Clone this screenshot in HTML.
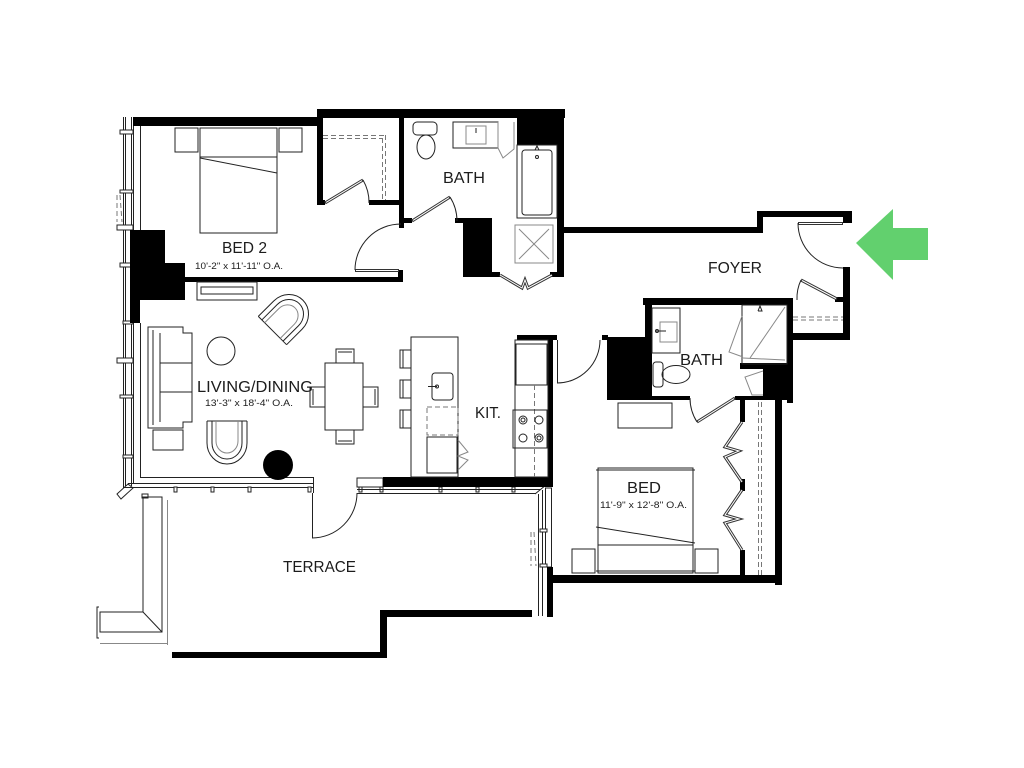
<!DOCTYPE html>
<html><head><meta charset="utf-8">
<style>
html,body{margin:0;padding:0;background:#fff;}
svg{display:block;}
text{font-family:"Liberation Sans",sans-serif;fill:#1c1c1c;}
.t{fill:none;stroke:#222;stroke-width:1;}
.g{fill:none;stroke:#888;stroke-width:1;}
.d{fill:none;stroke:#777;stroke-width:1;stroke-dasharray:5 3;}
.s{fill:none;stroke:#333;stroke-width:3;}
.si{fill:none;stroke:#fff;stroke-width:1;}
.w{fill:#fff;stroke:#222;stroke-width:1;}
</style></head><body>
<svg width="1024" height="768" viewBox="0 0 1024 768" xmlns="http://www.w3.org/2000/svg">
<rect width="1024" height="768" fill="#fff"/>

<!-- LEFT EXTERIOR WINDOW WALL -->
<g class="t">
 <line x1="123.5" y1="117" x2="123.5" y2="492"/>
 <line x1="125.5" y1="117" x2="125.5" y2="490"/>
 <line x1="131.5" y1="117" x2="131.5" y2="486"/>
 <line x1="133.5" y1="126" x2="133.5" y2="484"/>
 <line x1="140.5" y1="126" x2="140.5" y2="230"/>
 <line x1="140.5" y1="323" x2="140.5" y2="477"/>
</g>
<g class="w">
 <rect x="120" y="130" width="13" height="4"/>
 <rect x="120" y="190" width="13" height="3"/>
 <rect x="117" y="225" width="16" height="5"/>
 <rect x="120" y="263" width="13" height="4"/>
 <rect x="123" y="321" width="10" height="3"/>
 <rect x="117" y="358" width="16" height="5"/>
 <rect x="120" y="395" width="13" height="3"/>
 <rect x="123" y="455" width="10" height="3"/>
</g>
<g class="d" stroke-dasharray="2 2"><line x1="117" y1="195" x2="117" y2="222"/><line x1="120" y1="195" x2="122" y2="222"/></g>
<polygon points="117,494 128,484 133,488 121,499" class="w"/>

<!-- LIVING BOTTOM EDGE -->
<g class="t">
 <line x1="140" y1="477.5" x2="313" y2="477.5"/>
 <line x1="128" y1="483.5" x2="313" y2="483.5"/>
 <line x1="124" y1="487.5" x2="313" y2="487.5"/>
 <line x1="313.5" y1="477" x2="313.5" y2="493"/>
</g>
<g class="w">
 <rect x="174" y="487" width="3" height="5"/><rect x="211" y="487" width="3" height="5"/>
 <rect x="248" y="487" width="3" height="5"/><rect x="308" y="487" width="3" height="5"/>
 <rect x="357" y="478" width="26" height="9"/>
 <rect x="359" y="487" width="3" height="5"/><rect x="380" y="487" width="3" height="5"/>
 <rect x="439" y="487" width="3" height="5"/><rect x="476" y="487" width="3" height="5"/>
 <rect x="512" y="487" width="3" height="5"/>
</g>
<g class="t">
 <line x1="357" y1="489.5" x2="540" y2="489.5"/>
 <line x1="357" y1="493.5" x2="536" y2="493.5"/>
 <line x1="535" y1="494" x2="546" y2="485"/>
 <line x1="538.5" y1="494" x2="538.5" y2="616"/>
 <line x1="542.5" y1="490" x2="542.5" y2="616"/>
 <rect x="545.5" y="488" width="6" height="79" fill="#fff"/>
</g>
<g class="w"><rect x="540" y="529" width="7" height="3"/><rect x="540" y="564" width="7" height="3"/></g>
<g class="d" stroke-dasharray="2 2"><line x1="531" y1="532" x2="531" y2="566"/><line x1="534" y1="532" x2="536" y2="566"/></g>

<!-- WALLS -->
<g fill="#000">
 <rect x="133" y="117" width="188" height="9"/>
 <rect x="317" y="109" width="248" height="9"/>
 <rect x="317" y="109" width="6" height="96"/>
 <rect x="317" y="200" width="8" height="5"/>
 <rect x="369" y="200" width="35" height="5"/>
 <rect x="399" y="118" width="5" height="110"/>
 <rect x="399" y="218" width="13" height="5"/>
 <rect x="455" y="218" width="37" height="5"/>
 <rect x="463" y="220" width="29" height="57"/>
 <rect x="517" y="109" width="46" height="36"/>
 <rect x="557" y="109" width="7" height="168"/>
 <rect x="492" y="272" width="8" height="5"/>
 <rect x="550" y="272" width="13" height="5"/>
 <rect x="183" y="277" width="220" height="5"/>
 <rect x="398" y="270" width="5" height="12"/>
 <path d="M130 230H165V263H185V300H140V323H130Z"/>
 <rect x="563" y="227" width="200" height="6"/>
 <rect x="757" y="211" width="6" height="22"/>
 <rect x="757" y="211" width="95" height="6"/>
 <rect x="843" y="211" width="9" height="12"/>
 <rect x="843" y="267" width="7" height="73"/>
 <rect x="787" y="333" width="63" height="7"/>
 <rect x="787" y="298" width="6" height="105"/>
 <rect x="643" y="298" width="150" height="7"/>
 <rect x="835" y="297" width="10" height="5"/>
 <rect x="645" y="298" width="7" height="102"/>
 <rect x="607" y="337" width="43" height="63"/>
 <rect x="602" y="335" width="6" height="5"/>
 <rect x="740" y="363" width="50" height="6"/>
 <rect x="763" y="368" width="27" height="32"/>
 <rect x="650" y="396" width="40" height="4"/>
 <rect x="735" y="396" width="30" height="4"/>
 <rect x="740" y="400" width="5" height="22"/>
 <rect x="740" y="479" width="5" height="12"/>
 <rect x="740" y="550" width="5" height="27"/>
 <rect x="775" y="400" width="7" height="185"/>
 <rect x="547" y="575" width="235" height="8"/>
 <rect x="548" y="337" width="5" height="150"/>
 <rect x="517" y="335" width="40" height="5"/>
 <rect x="383" y="477" width="170" height="10"/>
 <rect x="547" y="567" width="6" height="50"/>
 <rect x="380" y="610" width="152" height="7"/>
 <rect x="380" y="610" width="7" height="48"/>
 <rect x="172" y="652" width="215" height="6"/>
</g>

<!-- DOORS -->
<!-- bed2 -->
<line x1="355" y1="270.5" x2="399" y2="270.5" class="s"/><line x1="356" y1="270.5" x2="398" y2="270.5" class="si"/>
<path d="M355 270 A46 46 0 0 1 401 224" class="t" stroke="#555"/>
<!-- bed2 closet -->
<line x1="325" y1="203" x2="363" y2="180" class="s"/><line x1="326" y1="202.4" x2="362" y2="180.6" class="si"/>
<path d="M363 180 A44 44 0 0 1 369 203" class="t" stroke="#555"/>
<!-- bath -->
<line x1="412" y1="221" x2="450" y2="197" class="s"/><line x1="413" y1="220.4" x2="449" y2="197.6" class="si"/>
<path d="M450 197 A45 45 0 0 1 457 221" class="t" stroke="#555"/>
<!-- linen bifold -->
<polyline points="500,275 522,288 525,280 528,288 552,275" class="s"/><polyline points="500,275 522,288 525,280 528,288 552,275" class="si"/>
<!-- entry -->
<line x1="798" y1="223.5" x2="843" y2="223.5" class="s" stroke="#888"/><line x1="799" y1="223.5" x2="842" y2="223.5" class="si"/>
<path d="M798 223 A45 45 0 0 0 843 268" class="t" stroke="#555"/>
<!-- foyer closet -->
<line x1="801" y1="280" x2="837" y2="299" class="s"/><line x1="802" y1="280.5" x2="836" y2="298.5" class="si"/>
<path d="M801 280 A42 42 0 0 0 797 300" class="t" stroke="#555"/>
<g class="d"><line x1="793" y1="317" x2="843" y2="317"/><line x1="793" y1="320" x2="843" y2="320"/></g>
<!-- bedroom -->
<line x1="557.5" y1="340" x2="557.5" y2="383" class="t"/>
<path d="M557 383 A43 43 0 0 0 600 340" class="t" stroke="#555"/>
<!-- bath2 -->
<line x1="735" y1="398" x2="697" y2="422" class="s"/><line x1="734" y1="398.6" x2="698" y2="421.4" class="si"/>
<path d="M697 422 A45 45 0 0 1 690 398" class="t" stroke="#555"/>
<!-- terrace door -->
<line x1="312.5" y1="493" x2="312.5" y2="538" class="t"/>
<path d="M312 538 A45 45 0 0 0 357 493" class="t" stroke="#555"/>
<!-- bedroom closet bifold -->
<polyline points="742,422 725,447 739,451 725,457 742,482" class="s"/><polyline points="742,422 725,447 739,451 725,457 742,482" class="si"/>
<polyline points="742,490 725,515 739,519 725,523 742,550" class="s"/><polyline points="742,490 725,515 739,519 725,523 742,550" class="si"/>
<g class="d"><line x1="758.5" y1="402" x2="758.5" y2="575"/><line x1="761.5" y1="402" x2="761.5" y2="575"/></g>
<!-- bed2 closet dashed -->
<g class="d"><line x1="323" y1="135.5" x2="385" y2="135.5"/><line x1="323" y1="138.5" x2="382" y2="138.5"/><line x1="382.5" y1="138" x2="382.5" y2="200"/><line x1="385.5" y1="135" x2="385.5" y2="200"/></g>

<!-- BED 2 FURNITURE -->
<g class="t">
 <rect x="200" y="128" width="77" height="105"/>
 <line x1="200" y1="157" x2="277" y2="157"/>
 <line x1="200" y1="158" x2="277" y2="173"/>
 <rect x="175" y="128" width="23" height="24"/>
 <rect x="279" y="128" width="23" height="24"/>
</g>

<!-- BATH 1 -->
<g class="t">
 <rect x="413" y="122" width="24" height="13" rx="4"/>
 <ellipse cx="426" cy="147" rx="9" ry="12"/>
 <rect x="453" y="122" width="45" height="26"/>
 <rect x="466" y="126" width="20" height="18" class="g"/>
 <line x1="476" y1="128" x2="476" y2="133"/>
 <polyline points="498,122 498,148 503,158 514,149 514,122" class="g"/>
 <rect x="517" y="145" width="40" height="73"/>
 <rect x="522" y="150" width="30" height="65" rx="3"/>
 <circle cx="537" cy="157" r="1.5"/>
 <polyline points="535,150 537,146 539,150"/>
 <rect x="515" y="225" width="38" height="38" class="g"/>
 <line x1="519" y1="229" x2="549" y2="259" class="g"/><line x1="549" y1="229" x2="519" y2="259" class="g"/>
</g>

<!-- BATH 2 -->
<g class="t">
 <rect x="652" y="308" width="28" height="45"/>
 <rect x="660" y="322" width="17" height="20" class="g"/>
 <line x1="655" y1="331" x2="666" y2="331"/><circle cx="657" cy="331" r="1.5"/>
 <rect x="653" y="362" width="10" height="25" rx="3"/>
 <ellipse cx="676" cy="374.5" rx="14" ry="9"/>
 <rect x="742" y="305" width="45" height="59"/>
 <line x1="750" y1="358" x2="785" y2="307" class="g"/>
 <polyline points="742,316 729,352 743,357" class="g"/>
 <line x1="743" y1="358" x2="785" y2="360" class="g"/>
 <polyline points="758,311 760,306 762,311 758,311"/>
 <polyline points="763,371 745,377 752,395 763,395" class="g"/>
</g>

<!-- LIVING FURNITURE -->
<g class="t">
 <rect x="197" y="282" width="60" height="18"/>
 <rect x="201" y="287" width="52" height="7"/>
 <path d="M148 327H183V333H192V422H183V428H148Z"/>
 <line x1="153" y1="330" x2="153" y2="425"/>
 <line x1="160" y1="333" x2="160" y2="422"/>
 <line x1="160" y1="363" x2="192" y2="363"/>
 <line x1="160" y1="392" x2="192" y2="392"/>
 <rect x="153" y="430" width="30" height="20"/>
 <circle cx="221" cy="351" r="14"/>
 <g transform="translate(227,443)">
  <path d="M-20 -22H20"/>
  <path d="M-20 -22V0A20 21 0 0 0 20 0V-22"/>
  <path d="M-15 -22V0A15 16 0 0 0 15 0V-22"/>
  <path d="M-11 -22V-2A11 12 0 0 0 11 -2V-22" class="g"/>
 </g>
 <g transform="translate(288,315) rotate(-135)">
  <path d="M-20 -22H20"/>
  <path d="M-20 -22V0A20 21 0 0 0 20 0V-22"/>
  <path d="M-15 -22V0A15 16 0 0 0 15 0V-22"/>
  <path d="M-11 -22V-2A11 12 0 0 0 11 -2V-22" class="g"/>
 </g>
 <rect x="325" y="363" width="38" height="67"/>
 <rect x="336" y="349" width="18" height="14"/><line x1="338" y1="352" x2="352" y2="352"/>
 <rect x="336" y="430" width="18" height="14"/><line x1="338" y1="441" x2="352" y2="441"/>
 <rect x="310" y="387" width="15" height="20"/><line x1="313" y1="389" x2="313" y2="405"/>
 <rect x="363" y="387" width="15" height="20"/><line x1="375" y1="389" x2="375" y2="405"/>
 <rect x="400" y="350" width="11" height="18"/><line x1="403" y1="350" x2="403" y2="368"/>
 <rect x="400" y="380" width="11" height="18"/><line x1="403" y1="380" x2="403" y2="398"/>
 <rect x="400" y="410" width="11" height="18"/><line x1="403" y1="410" x2="403" y2="428"/>
</g>
<circle cx="278" cy="465" r="15" fill="#000"/>

<!-- KITCHEN -->
<g class="t">
 <rect x="411" y="337" width="47" height="140"/>
 <rect x="432" y="373" width="21" height="27" rx="3"/>
 <line x1="428" y1="386.5" x2="437" y2="386.5"/><circle cx="437" cy="386.5" r="1.5"/>
 <rect x="427" y="407" width="31" height="28" class="d"/>
 <rect x="427" y="437" width="30" height="36"/>
 <polyline points="458,440 468,452 458,456 468,460 458,470" class="g"/>
 <rect x="515" y="340" width="33" height="137"/>
 <rect x="516" y="344" width="31" height="41"/>
 <line x1="534.5" y1="385" x2="534.5" y2="477" class="d"/>
 <rect x="513" y="410" width="34" height="38"/>
 <circle cx="523" cy="420" r="4"/><circle cx="523" cy="420" r="2"/>
 <circle cx="539" cy="420" r="4"/>
 <circle cx="523" cy="438" r="4"/>
 <circle cx="539" cy="438" r="4"/><circle cx="539" cy="438" r="2"/>
</g>

<!-- BEDROOM -->
<g class="t">
 <rect x="618" y="403" width="54" height="25"/>
 <rect x="598" y="468" width="95" height="105"/>
 <line x1="596" y1="470" x2="695" y2="470"/>
 <line x1="598" y1="545" x2="693" y2="545"/>
 <line x1="596" y1="527" x2="695" y2="543"/>
 <line x1="596" y1="571" x2="695" y2="571"/>
 <rect x="572" y="549" width="23" height="24"/>
 <rect x="695" y="549" width="23" height="24"/>
</g>

<!-- TERRACE PLANTER -->
<g class="t">
 <path d="M143 497V612H100V632H162V497Z"/>
 <line x1="143" y1="612" x2="162" y2="632"/>
 <rect x="142" y="494" width="6" height="4"/>
 <line x1="167.5" y1="500" x2="167.5" y2="645" class="g"/>
 <line x1="100" y1="643.5" x2="168" y2="643.5" class="g"/>
 <polyline points="99,607 97,607 97,638 99,638"/>
</g>

<!-- ENTRY ARROW -->
<polygon points="856,243 893,209 893,228 928,228 928,260 893,260 893,280" fill="#62d06e"/>

<!-- LABELS -->
<text x="222" y="253" font-size="16" textLength="45" lengthAdjust="spacingAndGlyphs">BED 2</text>
<text x="195" y="269" font-size="9.5" textLength="88" lengthAdjust="spacingAndGlyphs">10'-2" x 11'-11" O.A.</text>
<text x="443" y="183" font-size="16" textLength="42" lengthAdjust="spacingAndGlyphs">BATH</text>
<text x="708" y="273" font-size="16" textLength="54" lengthAdjust="spacingAndGlyphs">FOYER</text>
<text x="680" y="365" font-size="16" textLength="43" lengthAdjust="spacingAndGlyphs">BATH</text>
<text x="197" y="392" font-size="16" textLength="116" lengthAdjust="spacingAndGlyphs">LIVING/DINING</text>
<text x="205" y="406" font-size="9.5" textLength="88" lengthAdjust="spacingAndGlyphs">13'-3" x 18'-4" O.A.</text>
<text x="475" y="418" font-size="16" textLength="26" lengthAdjust="spacingAndGlyphs">KIT.</text>
<text x="627" y="493" font-size="16" textLength="34" lengthAdjust="spacingAndGlyphs">BED</text>
<text x="600" y="508" font-size="9.5" textLength="87" lengthAdjust="spacingAndGlyphs">11'-9" x 12'-8" O.A.</text>
<text x="283" y="572" font-size="16" textLength="73" lengthAdjust="spacingAndGlyphs">TERRACE</text>
</svg>
</body></html>
